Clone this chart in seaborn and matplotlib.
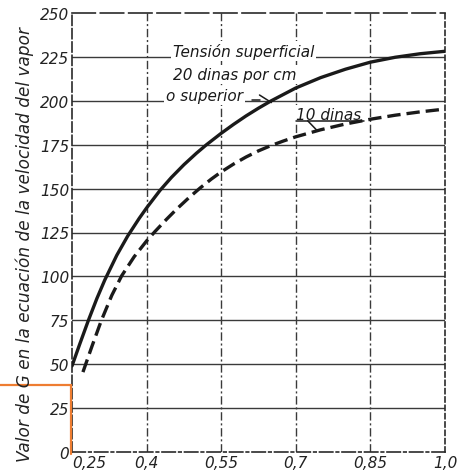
import matplotlib
matplotlib.use("Agg")
import matplotlib.pyplot as plt
from matplotlib.lines import Line2D
import seaborn as sns
import pandas as pd

# ---- data ----
x_solid = [0.25, 0.265, 0.283, 0.30, 0.316, 0.34, 0.362, 0.385, 0.40, 0.427,
           0.45, 0.475, 0.50, 0.52, 0.55, 0.575, 0.60, 0.625, 0.65, 0.675,
           0.70, 0.75, 0.80, 0.85, 0.90, 0.95, 1.0]
y_solid = [49, 61, 75, 87.4, 98, 112, 123, 133, 139, 149,
           156.4, 163.6, 170.1, 174.9, 181.5, 186.6, 191.4, 195.8, 199.9, 203.6,
           207.3, 213.2, 218, 222, 224.8, 226.8, 228.2]

x_dashed = [0.272, 0.29, 0.309, 0.33, 0.35, 0.375, 0.40, 0.417, 0.44, 0.46,
            0.485, 0.507, 0.53, 0.55, 0.575, 0.60, 0.625, 0.65, 0.675, 0.70,
            0.75, 0.80, 0.85, 0.90, 0.95, 1.0]
y_dashed = [45.5, 60.1, 74.9, 89.2, 100.4, 111.2, 120.2, 125.6, 132.5, 138.2,
            144.8, 150.2, 155.4, 159.5, 164, 168, 171.5, 174.5, 177.1, 179.5,
            183.5, 186.8, 189.5, 191.8, 193.7, 195.3]

x_ticks = [0.25, 0.40, 0.55, 0.70, 0.85, 1.00]
x_tick_labels = ["0,25", "0,4", "0,55", "0,7", "0,85", "1,0"]
y_ticks = [0, 25, 50, 75, 100, 125, 150, 175, 200, 225, 250]
y_tick_labels = [str(v) for v in y_ticks]

ylabel = "Valor de G en la ecuación de la velocidad del vapor"
lab_tension = "Tensión superficial"
lab_20 = "20 dinas por cm"
lab_sup = "o superior"
lab_10 = "10 dinas"

df_s = pd.DataFrame({"x": x_solid, "y": y_solid})
df_d = pd.DataFrame({"x": x_dashed, "y": y_dashed})

sns.set_theme(style="white")
plt.rcParams["font.family"] = ["DejaVu Sans"]

W, H = 464, 477
fig = plt.figure(figsize=(W / 100, H / 100), dpi=100)
fig.patch.set_facecolor("white")
L, R, T, B = 72, 445, 14, 453
ax = fig.add_axes([L / W, 1 - B / H, (R - L) / W, (B - T) / H])
ax.set_facecolor("white")

ink = "#1a1a1a"
sns.lineplot(data=df_s, x="x", y="y", ax=ax, color=ink, linewidth=2.4,
             estimator=None, zorder=5)
sns.lineplot(data=df_d, x="x", y="y", ax=ax, color=ink, linewidth=2.4,
             estimator=None, linestyle=(0, (4.0, 1.8)), zorder=5)

ax.set_xlim(0.25, 1.0)
ax.set_ylim(0, 250)
ax.set_xticks(x_ticks)
ax.set_xticklabels(x_tick_labels, fontsize=11, style="italic", color="#222")
ax.set_yticks(y_ticks)
ax.set_yticklabels(y_tick_labels, fontsize=11, style="italic", color="#222")
ax.tick_params(axis="both", length=0, pad=2)
xt = ax.get_xticklabels()
xt[0].set_ha("left")
ax.set_xlabel("")
ax.set_ylabel("")

# grid: horizontal solid, vertical dash-dot
ax.set_axisbelow(True)
ax.grid(False)
for yv in y_ticks[1:-1]:
    ax.axhline(yv, color="#3a3a3a", linewidth=1.0, zorder=1)
for xv in x_ticks[1:-1]:
    ax.axvline(xv, color="#3a3a3a", linewidth=1.0,
               linestyle=(0, (6, 2, 1.5, 2)), zorder=1)

# frame
for side, ls in [("top", (0, (14, 3))), ("left", (0, (6, 2))),
                 ("right", (0, (3, 2))), ("bottom", (0, (8, 2, 1.5, 2)))]:
    sp = ax.spines[side]
    sp.set_visible(True)
    sp.set_color("#2a2a2a")
    sp.set_linewidth(1.2)
    sp.set_linestyle(ls)

# annotations
tkw = dict(fontsize=11, style="italic", color=ink, va="baseline", ha="left",
           zorder=3, bbox=dict(facecolor="white", edgecolor="none", pad=1.5))
ax.text(0.453, 225.5, lab_tension, **tkw)
ax.text(0.453, 212.5, lab_20, **tkw)
ax.text(0.439, 200.5, lab_sup, **tkw)
ax.text(0.700, 189.5, lab_10, **tkw)
# leaders
ax.plot([0.612, 0.628], [200.3, 200.3], color=ink, linewidth=1.1, zorder=4)
ax.plot([0.627, 0.651], [203.3, 199.0], color=ink, linewidth=1.1, zorder=4)
ax.plot([0.700, 0.838], [188.6, 188.6], color=ink, linewidth=1.1, zorder=4)
ax.plot([0.724, 0.742], [188.6, 183.3], color=ink, linewidth=1.1, zorder=4)

# y label
fig.text(25 / W, 1 - 244 / H, ylabel, rotation=90, ha="center", va="center",
         fontsize=12.2, style="italic", color="#222")

# orange highlight corner
orange = "#EE7D31"
fig.add_artist(Line2D([0, 71 / W], [1 - 386 / H, 1 - 386 / H], color=orange,
                      linewidth=1.6, transform=fig.transFigure))
fig.add_artist(Line2D([71 / W, 71 / W], [1 - 386 / H, 1 - 455 / H], color=orange,
                      linewidth=1.6, transform=fig.transFigure))

fig.savefig("out.png", dpi=100, facecolor="white")
